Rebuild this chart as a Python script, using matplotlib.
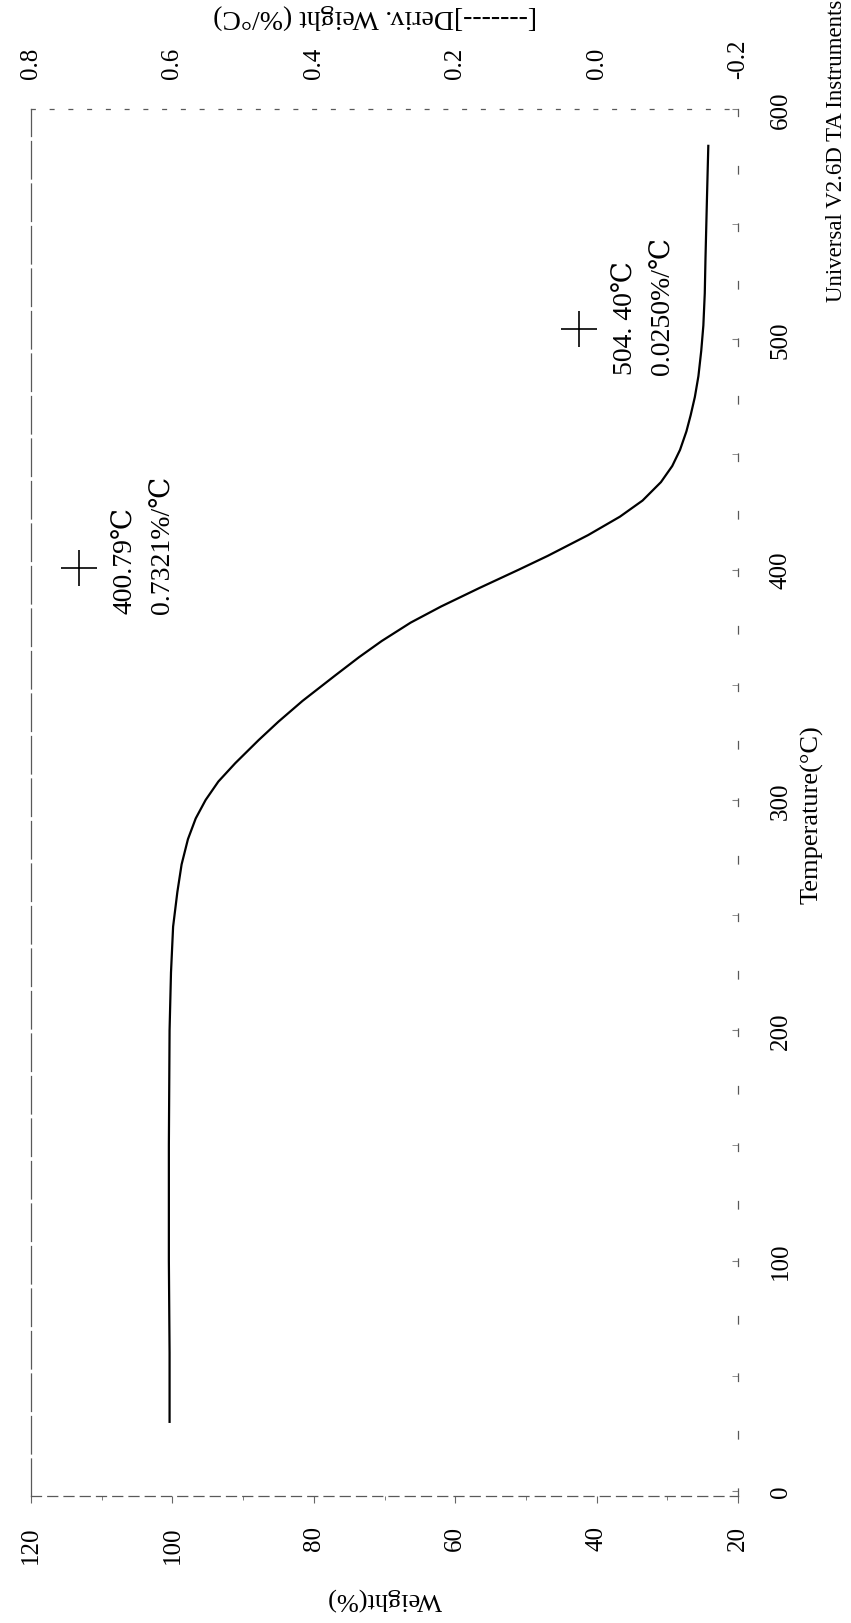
import numpy as np
import matplotlib
matplotlib.use("Agg")
import matplotlib.pyplot as plt

# TGA curve
temp = [30, 60, 100, 150, 200, 225, 245, 260, 272, 283, 292, 300, 308, 316, 326,
        334, 343, 354, 362, 369, 377, 384, 392, 400, 406, 415, 423, 430, 438, 445,
        452, 460, 467, 475, 484, 495, 506, 520, 535, 560, 584]
weight = [100.4, 100.4, 100.5, 100.5, 100.4, 100.2, 99.9, 99.3, 98.7, 97.8, 96.7,
          95.3, 93.5, 91.1, 87.8, 85.0, 81.6, 77.0, 73.6, 70.4, 66.3, 62.0, 56.6,
          51.0, 46.9, 41.2, 36.7, 33.5, 30.9, 29.3, 28.2, 27.3, 26.7, 26.1, 25.6,
          25.2, 24.9, 24.7, 24.6, 24.4, 24.2]

# deriv. weight peaks
peak_t = [400.79, 504.40]
peak_d = [0.7321, 0.0250]
peak_txt1 = ["400.79\u2103", "504. 40\u2103"]
peak_txt2 = ["0.7321%/\u2103", "0.0250%/\u2103"]

w_ticks = [120, 100, 80, 60, 40, 20]
t_ticks = [0, 100, 200, 300, 400, 500, 600]
d_ticks = [0.8, 0.6, 0.4, 0.2, 0.0, -0.2]

plt.rcParams['font.family'] = ['Liberation Serif', 'DejaVu Serif']

W, H = 851, 1624
fig = plt.figure(figsize=(W/100, H/100), dpi=100)
ax = fig.add_axes([31/W, 127/H, 707/W, (1514-127)/H])

ax.plot(weight, temp, color='black', lw=1.6)
ax.set_xlim(120, 20)
ax.set_ylim(-2.2, 600)

ax.set_xticks(w_ticks)
ax.set_xticks(np.arange(20, 121, 10), minor=True)
ax.set_xticklabels([str(v) for v in w_ticks], rotation=90, fontsize=18)
ax.tick_params(axis='x', direction='out', length=5, pad=16, color='0.4')
ax.tick_params(axis='x', which='minor', direction='out', length=3, color='0.4')

ax.yaxis.tick_right()
ax.set_yticks(t_ticks)
ax.set_yticks(np.arange(0, 601, 50), minor=True)
ax.set_yticklabels([str(v) for v in t_ticks], rotation=90, va='center', fontsize=18)
ax.tick_params(axis='y', which='both', direction='in', length=4, pad=23, color='0.5')

for s in ax.spines.values():
    s.set_linewidth(0.9)
    s.set_color('0.35')
ax.spines['bottom'].set_linestyle((0, (8, 5)))
ax.spines['right'].set_linestyle((0, (6, 40)))
ax.spines['top'].set_linestyle((0, (3, 12)))
ax.spines['left'].set_linestyle((0, (30, 4)))

ax2 = ax.twiny()
ax2.set_xlim(0.8, -0.2)
ax2.set_xticks(d_ticks)
ax2.set_xticklabels(["%.1f" % v for v in d_ticks], rotation=90, fontsize=18)
ax2.tick_params(axis='x', direction='in', length=0, pad=22)
for s in ax2.spines.values():
    s.set_visible(False)

ax2.plot(peak_d, peak_t, linestyle='none', marker='+', markersize=26,
         markeredgewidth=1.2, color='black')

for d, t, s1, s2 in zip(peak_d, peak_t, peak_txt1, peak_txt2):
    ax2.annotate(s1, (d, t), xytext=(47, -45), textcoords='offset pixels',
                 rotation=90, ha='center', va='bottom', fontsize=20)
    ax2.annotate(s2, (d, t), xytext=(84, -45), textcoords='offset pixels',
                 rotation=90, ha='center', va='bottom', fontsize=20)

fig.text(385/W, 1 - 1599/H, "Weight(%)", rotation=180, ha='center', va='center', fontsize=19)
fig.text(375/W, 1 - 17/H, "[-------]Deriv. Weight (%/\u00b0C)", rotation=180,
         ha='center', va='center', fontsize=20)
fig.text(812/W, 1 - 815/H, "Temperature(\u00b0C)", rotation=90, ha='center', va='center', fontsize=19)
fig.text(836/W, 1 - 302/H, "Universal V2.6D TA Instruments", rotation=90,
         ha='center', va='bottom', fontsize=16.5)

fig.savefig("out.png", dpi=100)
